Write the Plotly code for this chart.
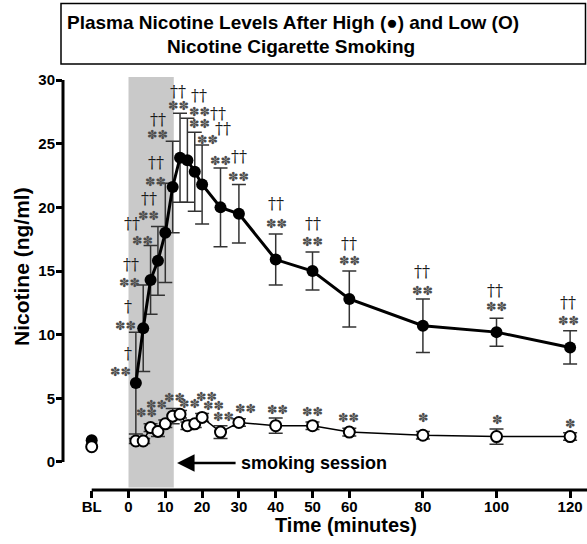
import plotly.graph_objects as go

# ---------------- data ----------------
times = [2, 4, 6, 8, 10, 12, 14, 16, 18, 20, 25, 30, 40, 50, 60, 80, 100, 120]
high_mean = [6.2, 10.5, 14.3, 15.8, 18.0, 21.6, 23.9, 23.7, 22.8, 21.8, 20.0, 19.5,
             15.9, 15.0, 12.8, 10.7, 10.2, 9.0]
high_err = [4.0, 3.4, 2.7, 2.7, 3.9, 3.6, 3.5, 3.3, 3.1, 3.1, 3.1, 2.3,
            2.0, 1.5, 2.2, 2.1, 1.1, 1.3]
low_mean = [1.65, 1.65, 2.7, 2.4, 3.0, 3.6, 3.75, 2.85, 3.0, 3.5, 2.35, 3.1,
            2.85, 2.85, 2.35, 2.1, 2.0, 2.0]
low_err = [0.2, 0.2, 0.3, 0.4, 0.3, 0.6, 0.3, 0.3, 0.3, 0.3, 0.5, 0.3,
           0.6, 0.3, 0.3, 0.3, 0.6, 0.3]
bl_x = -10
bl_high = 1.7
bl_low = 1.2
session_end = 12.3

x_tickvals = [-10, 0, 10, 20, 30, 40, 50, 60, 80, 100, 120]
x_ticktext = ["BL", "0", "10", "20", "30", "40", "50", "60", "80", "100", "120"]
y_tickvals = [0, 5, 10, 15, 20, 25, 30]

STAR = "\u273d\u273d"
ONE_STAR = "\u273d"
D1 = "\u2020"
D2 = "\u2020\u2020"

# significance labels (text, minute, ng/ml) for the high series
high_labels = [
    (STAR, -2.3, 7.07), (D1, -0.14, 8.56),
    (STAR, -0.95, 10.76), (D1, -0.14, 12.18),
    (STAR, 0.14, 14.06), (D2, 0.68, 15.55),
    (STAR, 3.67, 17.36), (D2, 0.95, 18.7),
    (STAR, 5.3, 19.4), (D2, 5.57, 20.66),
    (STAR, 7.2, 22.07), (D2, 7.47, 23.5),
    (STAR, 8.0, 25.7), (D2, 8.0, 26.9),
    (STAR, 13.45, 27.97), (D2, 13.45, 29.1),
    (STAR, 19.2, 27.5), (D2, 19.2, 28.8),
    (STAR, 19.4, 26.55), (D2, 24.3, 27.4),
    (STAR, 21.6, 25.3), (D2, 25.7, 26.2),
    (STAR, 24.9, 23.7), (D2, 30.0, 24.0),
    (STAR, 30.0, 22.4),
    (D2, 40.1, 20.27), (STAR, 40.1, 18.7),
    (D2, 50.0, 18.7), (STAR, 50.0, 17.3),
    (D2, 60.0, 17.2), (STAR, 60.0, 15.8),
    (D2, 79.7, 15.0), (STAR, 79.9, 13.5),
    (D2, 99.7, 13.5), (STAR, 99.9, 12.2),
    (D2, 119.5, 12.5), (STAR, 119.5, 11.15),
]
# significance labels for the low series
low_labels = [
    (STAR, 4.8, 3.85), (STAR, 7.7, 4.48), (STAR, 12.6, 5.1), (STAR, 16.7, 4.63),
    (STAR, 21.1, 5.18), (STAR, 23.0, 4.4), (STAR, 25.7, 3.61), (STAR, 31.7, 4.24),
    (STAR, 40.4, 4.16), (STAR, 49.9, 3.93), (STAR, 59.9, 3.46),
    (ONE_STAR, 80.0, 3.53), (ONE_STAR, 100.1, 3.3), (ONE_STAR, 120.0, 3.06),
]

# ---------------- layout geometry (pixels) ----------------
W, H = 587, 544
ML, MR, MT, MB = 63, 0, 77, 54
PW, PH = W - ML - MR, H - MT - MB
X_RANGE = [-17.8, 124.59]
Y_RANGE = [-2.2, 30.24]


def px_x(p):
    return (p - ML) / PW


def px_y(p):
    return (H - MB - p) / PH


fig = go.Figure()

# high nicotine
fig.add_trace(go.Scatter(
    x=times, y=high_mean, mode="lines+markers",
    line=dict(color="black", width=3),
    marker=dict(color="black", size=12),
    error_y=dict(type="data", array=high_err, color="#333333", thickness=1.5, width=7),
    showlegend=False, cliponaxis=False,
))
# low nicotine
fig.add_trace(go.Scatter(
    x=times, y=low_mean, mode="lines+markers",
    line=dict(color="black", width=1.5),
    marker=dict(color="white", size=11, line=dict(color="black", width=2)),
    error_y=dict(type="data", array=low_err, color="#333333", thickness=1.5, width=7),
    showlegend=False, cliponaxis=False,
))
# baseline
fig.add_trace(go.Scatter(x=[bl_x], y=[bl_high], mode="markers",
                         marker=dict(color="black", size=12), showlegend=False))
fig.add_trace(go.Scatter(x=[bl_x], y=[bl_low], mode="markers",
                         marker=dict(color="white", size=11, line=dict(color="black", width=2)),
                         showlegend=False))

shapes = [
    # smoking session shading
    dict(type="rect", xref="x", yref="paper", x0=0, x1=session_end, y0=0.006, y1=1,
         fillcolor="#c9c9c9", line=dict(width=0), layer="below"),
    # y axis line
    dict(type="line", xref="paper", yref="y", x0=0, x1=0, y0=0, y1=30,
         line=dict(color="black", width=3)),
    # x axis line
    dict(type="line", xref="x", yref="paper", x0=bl_x, x1=X_RANGE[1], y0=0, y1=0,
         line=dict(color="black", width=3)),
    # title box
    dict(type="rect", xref="paper", yref="paper", x0=px_x(61), x1=px_x(585.5),
         y0=px_y(64), y1=px_y(3.5), line=dict(color="black", width=1.5)),
]

annotations = []
for txt, xm, yv in high_labels + low_labels:
    is_star = "\u273d" in txt
    annotations.append(dict(
        x=xm, y=yv, xref="x", yref="y", text=txt, showarrow=False,
        xanchor="center", yanchor="middle",
        font=dict(family="DejaVu Sans" if is_star else "DejaVu Serif",
                  size=12.5 if is_star else 16,
                  color="#4d4d4d" if is_star else "#1a1a1a"),
    ))

# title lines
title_font = dict(family="Liberation Sans", size=19, color="black", weight="bold")
annotations.append(dict(x=px_x(293), y=px_y(23), xref="paper", yref="paper",
                        text="Plasma Nicotine Levels After High (\u25cf) and Low (O)",
                        showarrow=False, xanchor="center", yanchor="middle",
                        font=title_font))
annotations.append(dict(x=px_x(291), y=px_y(47), xref="paper", yref="paper",
                        text="Nicotine Cigarette Smoking",
                        showarrow=False, xanchor="center", yanchor="middle",
                        font=title_font))
# axis titles
annotations.append(dict(x=px_x(21), y=px_y(267), xref="paper", yref="paper",
                        text="Nicotine (ng/ml)", textangle=-90, showarrow=False,
                        xanchor="center", yanchor="middle",
                        font=dict(family="Liberation Sans", size=21, color="black", weight="bold")))
annotations.append(dict(x=px_x(346), y=px_y(525), xref="paper", yref="paper",
                        text="Time (minutes)", showarrow=False,
                        xanchor="center", yanchor="middle",
                        font=dict(family="Liberation Sans", size=20, color="black", weight="bold")))
# smoking session arrow + label
annotations.append(dict(x=session_end + 0.9, y=-0.08, xref="x", yref="y",
                        ax=60, ay=0, text="", showarrow=True,
                        arrowhead=2, arrowsize=1.4, arrowwidth=2.5, arrowcolor="black"))
annotations.append(dict(x=px_x(239), y=px_y(463), xref="paper", yref="paper",
                        text="smoking session", showarrow=False,
                        xanchor="left", yanchor="middle",
                        font=dict(family="Liberation Sans", size=18, color="black", weight="bold")))

fig.update_layout(
    width=W, height=H,
    margin=dict(l=ML, r=MR, t=MT, b=MB, pad=0),
    paper_bgcolor="white", plot_bgcolor="white",
    shapes=shapes, annotations=annotations,
    xaxis=dict(range=X_RANGE, showgrid=False, zeroline=False, showline=False,
               tickmode="array", tickvals=x_tickvals, ticktext=x_ticktext,
               ticks="outside", ticklen=7, tickwidth=3, tickcolor="black",
               ticklabelstandoff=-4,
               tickfont=dict(family="Liberation Sans", size=15, color="black", weight="bold")),
    yaxis=dict(range=Y_RANGE, showgrid=False, zeroline=False, showline=False,
               tickmode="array", tickvals=y_tickvals,
               ticks="outside", ticklen=6, tickwidth=3, tickcolor="black",
               ticklabelstandoff=-2,
               tickfont=dict(family="Liberation Sans", size=15, color="black", weight="bold")),
)

fig.write_html("out.html", post_script="document.body.style.margin='0px';",
               config={"displayModeBar": False})
